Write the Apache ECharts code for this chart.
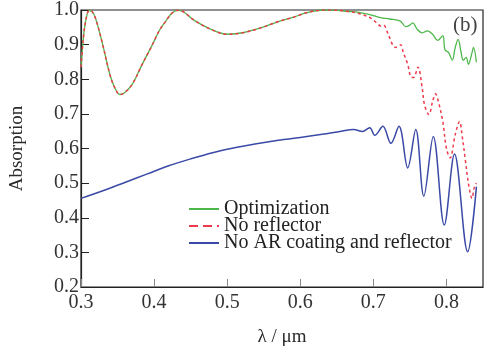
<!DOCTYPE html>
<html>
<head>
<meta charset="utf-8">
<script src="https://cdn.jsdelivr.net/npm/echarts@6/dist/echarts.min.js"></script>
<style>html,body{margin:0;padding:0;background:#fff}#c{width:494px;height:352px}</style>
</head>
<body>
<div id="c"></div>
<script>
// Shared part of "Optimization" and "No reflector" (identical up to ~0.665 µm)
var commonPart = [[0.300,0.835],[0.302,0.89],[0.304,0.934],[0.307,0.975],[0.311,0.998],[0.315,0.996],[0.320,0.975],[0.329,0.906],[0.340,0.81],[0.347,0.772],[0.353,0.756],[0.360,0.762],[0.370,0.785],[0.383,0.84],[0.397,0.897],[0.407,0.94],[0.415,0.965],[0.424,0.99],[0.432,0.999],[0.440,0.995],[0.455,0.97],[0.478,0.944],[0.500,0.93],[0.523,0.935],[0.547,0.949],[0.569,0.966],[0.592,0.98],[0.605,0.99],[0.619,0.997],[0.635,1.0],[0.650,0.999],[0.665,0.996]];
var optimizationTail = [[0.68,0.993],[0.696,0.986],[0.71,0.978],[0.722,0.974],[0.737,0.968],[0.744,0.952],[0.749,0.955],[0.754,0.963],[0.76,0.944],[0.767,0.934],[0.774,0.94],[0.781,0.93],[0.788,0.912],[0.795,0.926],[0.798,0.885],[0.803,0.877],[0.808,0.855],[0.812,0.892],[0.816,0.915],[0.82,0.878],[0.823,0.855],[0.827,0.863],[0.83,0.843],[0.835,0.877],[0.837,0.892],[0.841,0.849]];
var noReflectorTail = [[0.68,0.99],[0.696,0.977],[0.705,0.962],[0.71,0.954],[0.714,0.956],[0.721,0.926],[0.73,0.892],[0.737,0.90],[0.741,0.877],[0.747,0.843],[0.751,0.808],[0.755,0.805],[0.761,0.835],[0.767,0.772],[0.77,0.726],[0.776,0.698],[0.781,0.735],[0.785,0.758],[0.789,0.735],[0.795,0.678],[0.8,0.6],[0.805,0.573],[0.812,0.64],[0.818,0.678],[0.821,0.644],[0.826,0.564],[0.83,0.50],[0.835,0.456],[0.838,0.487],[0.841,0.50]];
var noARData = [[0.3,0.456],[0.33,0.478],[0.36,0.502],[0.39,0.526],[0.42,0.55],[0.45,0.57],[0.48,0.588],[0.51,0.602],[0.54,0.614],[0.57,0.624],[0.6,0.632],[0.63,0.641],[0.656,0.65],[0.673,0.655],[0.685,0.649],[0.695,0.66],[0.702,0.638],[0.713,0.664],[0.724,0.615],[0.735,0.664],[0.747,0.544],[0.758,0.655],[0.769,0.462],[0.782,0.635],[0.797,0.379],[0.811,0.584],[0.829,0.302],[0.841,0.49]];
var seriesNames = ['Optimization','No reflector','No AR coating and reflector'];
var xTicks = [0.3,0.4,0.5,0.6,0.7,0.8];
var yTicks = [0.2,0.3,0.4,0.5,0.6,0.7,0.8,0.9,1.0];

var optimizationData = commonPart.concat(optimizationTail);
var noReflectorData = commonPart.concat(noReflectorTail);

var FONT = '"Liberation Serif", "DejaVu Serif", serif';
var chart = echarts.init(document.getElementById('c'));
chart.setOption({
  animation: false,
  backgroundColor: '#fff',
  title: {text: '(b)', left: 448, top: 10, textStyle: {fontFamily: FONT, fontSize: 21, fontWeight: 'normal', color: '#444'}},
  grid: {left: 79, right: 11, top: 7, bottom: 64, show: true, borderColor: '#222', borderWidth: 1.2, containLabel: false},
  legend: {
    orient: 'vertical', left: 183, top: 194, itemWidth: 30, itemHeight: 12, itemGap: -3,
    itemStyle: {opacity: 0},
    textStyle: {fontFamily: FONT, fontSize: 20, color: '#222'},
    data: [
      {name: seriesNames[0]},
      {name: seriesNames[1], lineStyle: {type: [9,5]}},
      {name: seriesNames[2]}
    ]
  },
  xAxis: {
    type: 'value', min: 0.3, max: 0.85, interval: 0.1,
    name: 'λ / μm', nameLocation: 'middle', nameGap: 41,
    nameTextStyle: {fontFamily: FONT, fontSize: 19, color: '#2a2a2a'},
    axisLine: {lineStyle: {color: '#222', width: 1.2}},
    axisTick: {inside: true, length: 8, lineStyle: {color: '#888'}, customValues: xTicks},
    axisLabel: {fontFamily: FONT, fontSize: 20, color: '#333', margin: 6, customValues: xTicks, formatter: function(v){return v.toFixed(1);}},
    splitLine: {show: false}
  },
  yAxis: {
    type: 'value', min: 0.2, max: 1.0, interval: 0.1,
    name: 'Absorption', nameLocation: 'middle', nameGap: 54,
    nameTextStyle: {fontFamily: FONT, fontSize: 19, color: '#2a2a2a'},
    axisLine: {lineStyle: {color: '#222', width: 1.2}},
    axisTick: {inside: true, length: 8, lineStyle: {color: '#222'}, customValues: yTicks},
    axisLabel: {fontFamily: FONT, fontSize: 20, color: '#333', margin: 2, customValues: yTicks, formatter: function(v){return v.toFixed(1);}},
    splitLine: {show: false}
  },
  series: [
    {name: seriesNames[0], type: 'line', data: optimizationData, symbol: 'none', smooth: 0.35, z: 2,
     lineStyle: {color: '#4fb64a', width: 1.3}, itemStyle: {color: '#4fb64a'}},
    {name: seriesNames[1], type: 'line', data: noReflectorData, symbol: 'none', smooth: 0.35, z: 3,
     lineStyle: {color: '#ee3a4a', width: 1.5, type: [3,3]}, itemStyle: {color: '#ee3a4a'}},
    {name: seriesNames[2], type: 'line', data: noARData, symbol: 'none', smooth: 0.35, z: 4,
     lineStyle: {color: '#3a4aa6', width: 1.5}, itemStyle: {color: '#3a4aa6'}}
  ]
});
</script>
</body>
</html>
